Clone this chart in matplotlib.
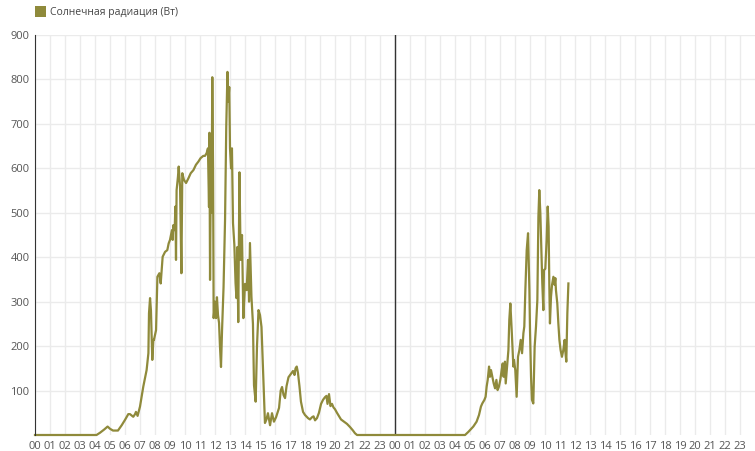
"""
Solar radiation over two days (hourly grid, two consecutive days).
"""
import numpy as np
import matplotlib.pyplot as plt
from matplotlib.patches import Rectangle

plt.rcParams['font.family'] = ['Open Sans', 'DejaVu Sans']

SERIES_NAME = "Солнечная радиация (Вт)"
LINE_COLOR = '#8f8a3b'

# day 1: hour of day -> watts
day1_hours = [0.0, 4.1, 4.33, 4.6, 4.84, 5.0, 5.2, 5.53, 5.78, 6.0, 6.22, 6.33, 6.55, 6.67,
              6.73, 6.84, 7.0, 7.11, 7.22, 7.33, 7.44, 7.56, 7.6, 7.67, 7.73, 7.82, 7.89,
              7.93, 8.07, 8.16, 8.29, 8.38, 8.51, 8.67, 8.82, 8.91, 9.0, 9.04, 9.13, 9.18,
              9.22, 9.31, 9.36, 9.4, 9.44, 9.53, 9.58, 9.67, 9.76, 9.82, 9.93, 10.07, 10.22,
              10.38, 10.56, 10.73, 10.89, 11.04, 11.22, 11.33, 11.44, 11.53, 11.6, 11.63,
              11.67, 11.73, 11.77, 11.82, 11.87, 11.91, 12.0, 12.07, 12.13, 12.2, 12.27,
              12.33, 12.4, 12.47, 12.57, 12.67, 12.75, 12.83, 12.89, 12.95, 13.0, 13.07,
              13.13, 13.2, 13.29, 13.37, 13.43, 13.49, 13.55, 13.63, 13.71, 13.8, 13.89,
              14.0, 14.11, 14.2, 14.27, 14.33, 14.43, 14.53, 14.6, 14.71, 14.8, 14.9, 15.0,
              15.1, 15.2, 15.33, 15.43, 15.53, 15.67, 15.8, 15.93, 16.07, 16.27, 16.38,
              16.47, 16.57, 16.67, 16.77, 16.9, 17.07, 17.2, 17.3, 17.37, 17.45, 17.53,
              17.63, 17.73, 17.87, 18.0, 18.2, 18.33, 18.47, 18.57, 18.67, 18.8, 18.93,
              19.07, 19.2, 19.33, 19.43, 19.5, 19.6, 19.7, 19.8, 19.9, 20.0, 20.13, 20.27,
              20.4, 20.6, 20.8, 21.0, 21.2, 21.33, 21.47, 24.0]
day1_values = [0, 0, 5, 12, 19, 14, 10, 10, 22, 34, 47, 47, 41, 47,
               52, 43, 64, 86, 109, 128, 146, 184, 274, 308, 280, 169, 214,
               214, 236, 356, 364, 341, 401, 412, 416, 431, 439, 446, 461, 439,
               472, 461, 514, 394, 551, 581, 604, 559, 364, 589, 574, 567, 577,
               589, 596, 608, 615, 623, 628, 628, 634, 645, 513, 680,
               349, 640, 500, 805, 600, 263, 300, 263, 310, 270, 252,
               200, 153, 236, 333, 484, 693, 817, 750, 783, 645, 600,
               645, 477, 428, 342, 308, 423, 254, 591, 394, 450, 263,
               340, 326, 394, 300, 432, 311, 250, 112, 75, 200, 281, 270,
               243, 150, 27, 35, 49, 22, 49, 30, 40, 61, 100,
               108, 90, 83, 110, 130, 138, 144, 135, 150, 154, 140,
               110, 75, 52, 45, 38, 35, 40, 42, 33, 38, 50,
               70, 79, 85, 88, 70, 92, 65, 70, 62, 58, 50, 42,
               35, 30, 25, 18, 10, 4, 0, 0]

# day 2: hour of day -> watts (data stops before noon)
day2_hours = [4.67, 4.89, 5.22, 5.44, 5.6, 5.73, 5.82, 5.96, 6.04, 6.11, 6.18, 6.27, 6.33,
              6.4, 6.49, 6.58, 6.67, 6.76, 6.84, 6.93, 7.02, 7.11, 7.18, 7.24, 7.33, 7.38,
              7.47, 7.56, 7.62, 7.69, 7.78, 7.89, 7.93, 8.02, 8.11, 8.2, 8.29, 8.38, 8.47,
              8.56, 8.62, 8.69, 8.78, 8.87, 8.96, 9.0, 9.07, 9.13, 9.22, 9.31, 9.4, 9.49,
              9.56, 9.62, 9.69, 9.76, 9.82, 9.89, 9.93, 10.02, 10.11, 10.18, 10.24, 10.29,
              10.33, 10.4, 10.47, 10.56, 10.64, 10.69, 10.73, 10.82, 10.89, 10.96, 11.04,
              11.13, 11.22, 11.31, 11.36, 11.42, 11.49, 11.56]
day2_values = [0, 7, 19, 30, 45, 64, 71, 79, 86, 109, 124, 154, 131,
               146, 131, 116, 105, 124, 101, 109, 124, 146, 161, 131, 165, 116,
               154, 191, 259, 296, 236, 154, 169, 146, 86, 176, 191, 214, 184,
               229, 244, 326, 416, 454, 326, 236, 131, 79, 71, 199, 244, 304,
               491, 551, 499, 409, 341, 281, 371, 374, 439, 514, 469, 334,
               251, 311, 338, 356, 338, 353, 326, 296, 251, 214, 191,
               176, 191, 214, 187, 165, 274, 341]

y_ticks = [100, 200, 300, 400, 500, 600, 700, 800, 900]

x = np.array(day1_hours + [h + 24 for h in day2_hours])
y = np.array(day1_values + day2_values)

fig = plt.figure(figsize=(7.55, 4.51), dpi=100)
ax = fig.add_axes([35 / 755, 16 / 451, 720 / 755, 400 / 451])

hours = np.arange(0, 48)
ax.set_xticks(hours)
ax.set_xticklabels([f"{h % 24:02d}" for h in hours])
ax.set_yticks(y_ticks)
ax.set_xlim(0, 48)
ax.set_ylim(0, 900)
ax.grid(True, color='#ebebeb', linewidth=1)
ax.set_axisbelow(True)
ax.tick_params(length=0, labelsize=8, colors='#555555', pad=4)
for side in ('top', 'right', 'bottom'):
    ax.spines[side].set_visible(False)
ax.spines['left'].set_color('#333333')

ax.axvline(24, color='#333333', linewidth=1)
ax.plot(x, y, color=LINE_COLOR, linewidth=1.6, clip_on=False)

# legend: square patch + label at the top left
fig.patches.append(Rectangle((35 / 755, 1 - 17 / 451), 11 / 755, 11 / 451,
                             transform=fig.transFigure, facecolor=LINE_COLOR,
                             edgecolor='none'))
fig.text(50 / 755, 1 - 12 / 451, SERIES_NAME, fontsize=7.5, color='#444444',
         va='center', ha='left')

plt.savefig("out.png", dpi=100)
